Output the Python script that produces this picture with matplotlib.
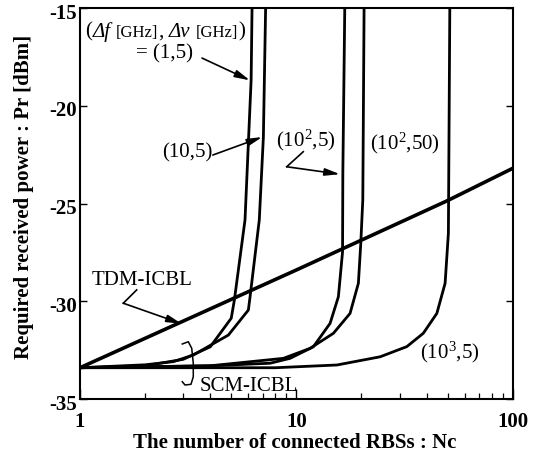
import matplotlib
matplotlib.use('Agg')
import matplotlib.pyplot as plt
from matplotlib.transforms import ScaledTranslation

plt.rcParams['font.family'] = ['Liberation Serif', 'DejaVu Serif']
plt.rcParams['mathtext.fontset'] = 'custom'
plt.rcParams['mathtext.rm'] = 'Liberation Serif'
plt.rcParams['mathtext.it'] = 'Liberation Serif:italic'
plt.rcParams['mathtext.bf'] = 'Liberation Serif:bold'

# ---------------- data ----------------
# SCM-ICBL curves: (delta f [GHz], delta nu [GHz])
n_1_5 = [1, 2, 3, 4, 5, 5.17, 5.79, 6.18, 6.24]
p_1_5 = [-33.4, -33.3, -32.97, -32.33, -30.87, -29.94, -25.84, -18.68, -15.0]

n_10_5 = [1, 2, 2.70, 3.34, 4.85, 6.00, 6.11, 6.74, 7.04, 7.21]
p_10_5 = [-33.4, -33.25, -33.09, -32.75, -31.73, -30.45, -29.77, -25.84, -21.60, -15.0]

n_100_5 = [1, 4, 7.56, 9.35, 11.98, 14.32, 15.64, 16.35, 16.4, 16.74]
p_100_5 = [-33.4, -33.3, -33.17, -32.92, -32.33, -31.13, -29.77, -27.47, -23.44, -15.0]

n_100_50 = [1, 4, 8.71, 11.57, 14.83, 17.71, 19.35, 19.85, 20.28, 20.56]
p_100_50 = [-33.4, -33.3, -32.92, -32.41, -31.64, -30.62, -29.08, -27.04, -24.82, -15.0]

n_1000_5 = [1, 8, 15.4, 24.4, 32.4, 38.6, 44.6, 48.7, 50.43, 51.2]
p_1000_5 = [-33.4, -33.4, -33.26, -32.84, -32.32, -31.64, -30.62, -29.08, -26.52, -15.0]

# TDM-ICBL
n_tdm = [1, 10, 50, 100]
p_tdm = [-33.4, -28.4, -24.85, -23.2]

x_ticks = [1, 10, 100]
x_tick_labels = ['1', '10', '100']
y_ticks = [-35, -30, -25, -20, -15]
y_tick_labels = ['-35', '-30', '-25', '-20', '-15']

# ---------------- figure ----------------
fig = plt.figure(figsize=(5.38, 4.58), dpi=100)
ax = fig.add_axes([0.1487, 0.1288, 0.8043, 0.8537])
ax.set_xscale('log')
ax.set_xlim(1, 100)
ax.set_ylim(-35, -15)

for n, p in [(n_1_5, p_1_5), (n_10_5, p_10_5), (n_100_5, p_100_5),
             (n_100_50, p_100_50), (n_1000_5, p_1000_5)]:
    ax.plot(n, p, color='black', lw=2.0, solid_joinstyle='round', solid_capstyle='butt')
ax.plot(n_tdm, p_tdm, color='black', lw=2.6, solid_capstyle='butt')

for s in ax.spines.values():
    s.set_linewidth(1.5)

ax.set_xticks(x_ticks)
ax.set_xticklabels(x_tick_labels, fontsize=15, fontweight='bold')
ax.set_yticks(y_ticks)
ax.set_yticklabels(y_tick_labels, fontsize=15, fontweight='bold')
ax.tick_params(which='both', direction='in', top=False, right=True)
ax.tick_params(axis='x', which='major', length=7, width=1, pad=9)
ax.tick_params(axis='x', which='minor', length=4, width=0.9)
ax.tick_params(axis='y', which='major', length=5, width=1, pad=2)
ax.xaxis.set_minor_formatter(plt.NullFormatter())
for lab in ax.get_yticklabels():
    lab.set_transform(lab.get_transform() + ScaledTranslation(0, -3 / 100, fig.dpi_scale_trans))

ax.set_xlabel('The number of connected RBSs : Nc', fontsize=15, fontweight='bold')
ax.xaxis.set_label_coords(0.497, -0.1125)
ax.xaxis.label.set_va('center')
ax.set_ylabel('Required received power : Pr [dBm]', fontsize=15, fontweight='bold')
ax.yaxis.set_label_coords(-0.129, 0.518)
ax.yaxis.label.set_va('center')

# ---------------- annotations ----------------
FS = 15
arrow = dict(arrowstyle='-|>,head_length=0.9,head_width=0.22', color='black',
             lw=1.2, shrinkA=0, shrinkB=0)

# header "(Δf [GHz], Δν [GHz])" built from pieces on a common baseline
parts = [('(', FS, 'normal', 0), ('Δf', FS, 'italic', 0.5), ('[GHz]', 12, 'normal', 5),
         (',', FS, 'normal', 0), ('Δν', FS, 'italic', 6), ('[GHz]', 12, 'normal', 5),
         (')', FS, 'normal', 0.5)]
renderer = fig.canvas.get_renderer()
inv = ax.transAxes.inverted()
x_px = ax.transAxes.transform((0.0116, 0))[0]
y_hdr = 0.926
for s, fs, st, gap in parts:
    x_px += gap
    xa = inv.transform((x_px, 0))[0]
    t = ax.text(xa, y_hdr, s, transform=ax.transAxes, fontsize=fs, style=st,
                va='baseline', ha='left')
    bb = t.get_window_extent(renderer)
    x_px = bb.x1

ax.text(0.196, 0.882, '= (1,5)', transform=ax.transAxes, fontsize=FS, ha='center', va='center')
ax.annotate('', xy=(6.1, -18.7), xycoords='data', xytext=(0.282, 0.872),
            textcoords='axes fraction', arrowprops=arrow)

ax.text(0.247, 0.629, '(10,5)', transform=ax.transAxes, fontsize=FS, ha='center', va='center')
ax.annotate('', xy=(6.95, -21.6), xycoords='data', xytext=(0.307, 0.624),
            textcoords='axes fraction', arrowprops=arrow)

ax.text(0.522, 0.662, r'(10$^{2}$,5)', transform=ax.transAxes, fontsize=FS, ha='center', va='center')
ax.plot([0.516, 0.4777], [0.6325, 0.594], transform=ax.transAxes, color='black', lw=1.2)
ax.annotate('', xy=(15.9, -23.5), xycoords='data', xytext=(0.4777, 0.594),
            textcoords='axes fraction', arrowprops=arrow)

ax.text(0.751, 0.655, r'(10$^{2}$,50)', transform=ax.transAxes, fontsize=FS, ha='center', va='center')

ax.text(0.143, 0.302, 'TDM-ICBL', transform=ax.transAxes, fontsize=FS, ha='center', va='center')
ax.plot([0.131, 0.100], [0.279, 0.245], transform=ax.transAxes, color='black', lw=1.2)
ax.annotate('', xy=(2.95, -31.15), xycoords='data', xytext=(0.100, 0.245),
            textcoords='axes fraction', arrowprops=arrow)

ax.text(0.855, 0.120, r'(10$^{3}$,5)', transform=ax.transAxes, fontsize=FS, ha='center', va='center')

ax.text(0.277, 0.031, 'SCM-ICBL', transform=ax.transAxes, fontsize=FS, ha='left', va='center')
bx = [0.2364, 0.2503, 0.2582, 0.2618, 0.2618, 0.2565, 0.2427, 0.2364]
by = [0.1407, 0.1465, 0.1297, 0.0913, 0.0570, 0.0376, 0.0358, 0.0442]
ax.plot(bx, by, transform=ax.transAxes, color='black', lw=1.1, solid_joinstyle='round')

fig.savefig('out.png', dpi=100)
